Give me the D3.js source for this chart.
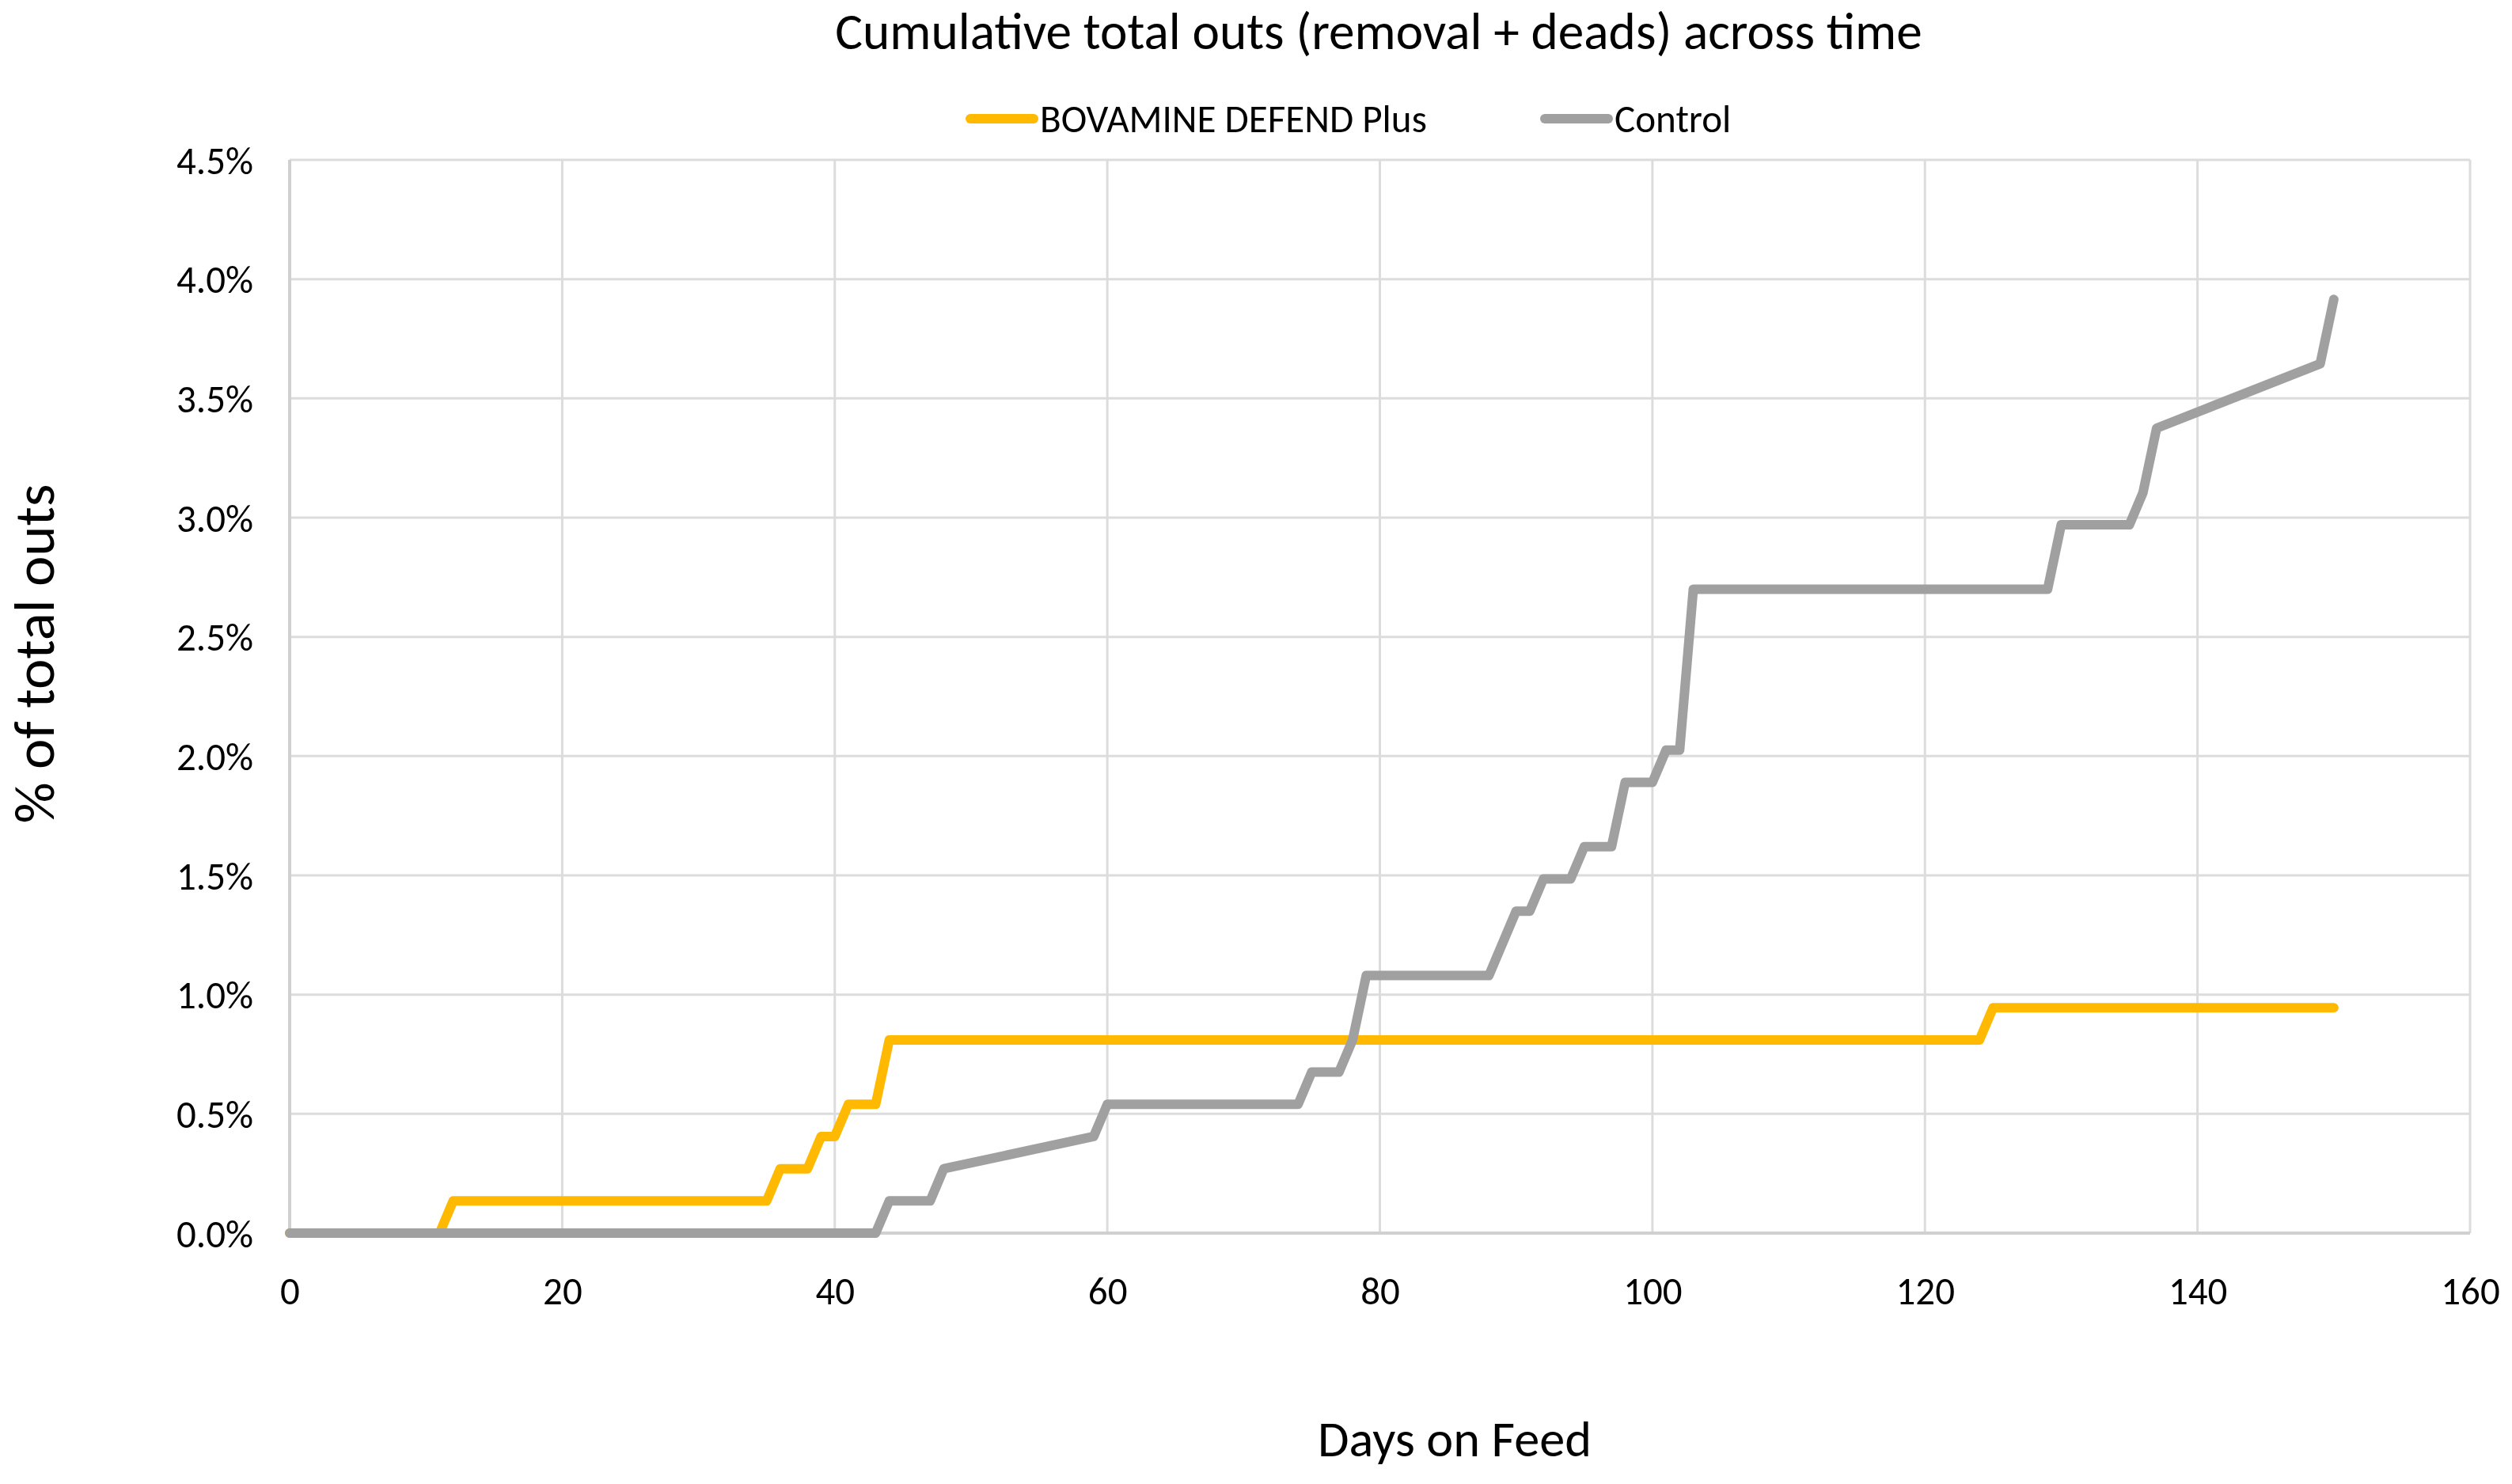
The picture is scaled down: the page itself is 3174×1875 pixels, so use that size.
<!DOCTYPE html>
<html>
<head>
<meta charset="utf-8">
<script src="https://cdn.jsdelivr.net/npm/d3@7"></script>
<style>
  html, body { margin: 0; padding: 0; background: #ffffff; }
  svg { display: block; }
  text { font-family: Carlito, Lato, "Open Sans", sans-serif; fill: #000; }
</style>
</head>
<body>
<svg id="chart" width="3174" height="1875"></svg>
<script>
// ---- data ----
const seriesNames = ["BOVAMINE DEFEND Plus", "Control"];
const bovDays   = [0, 11, 12, 35, 36, 38, 39, 40, 41, 43, 44, 124, 125, 150];
const bovValues = [0, 0, 0.135, 0.135, 0.27, 0.27, 0.405, 0.405, 0.54, 0.54, 0.81, 0.81, 0.945, 0.945];
const ctlDays   = [0, 43, 44, 47, 48, 59, 60, 74, 75, 77, 78, 79, 88, 90, 91, 92, 94, 95, 97, 98, 100, 101, 102, 103, 129, 130, 135, 136, 137, 149, 150];
const ctlValues = [0, 0, 0.135, 0.135, 0.27, 0.405, 0.54, 0.54, 0.675, 0.675, 0.81, 1.08, 1.08, 1.35, 1.35, 1.485, 1.485, 1.62, 1.62, 1.89, 1.89, 2.025, 2.025, 2.7, 2.7, 2.97, 2.97, 3.105, 3.375, 3.645, 3.915];
const xTicks = [0, 20, 40, 60, 80, 100, 120, 140, 160];
const yTicks = [0, 0.5, 1.0, 1.5, 2.0, 2.5, 3.0, 3.5, 4.0, 4.5];
const titleText = "Cumulative total outs (removal + deads) across time";
const xTitle = "Days on Feed";
const yTitle = "% of total outs";
const colors = ["#FFB900", "#A0A0A0"];

// ---- layout ----
const M = { left: 366, right: 3121, top: 202, bottom: 1558 };
const svg = d3.select("#chart");

const x = d3.scaleLinear().domain([0, 160]).range([M.left, M.right]);
const y = d3.scaleLinear().domain([0, 4.5]).range([M.bottom, M.top]);

function fitText(sel, target, base) {
  sel.style("font-size", base + "px");
  const w = sel.node().getComputedTextLength();
  const fs = base * target / w;
  sel.style("font-size", fs + "px");
  return fs;
}

// gridlines
const grid = svg.append("g");
grid.selectAll("line.h").data(yTicks).enter().append("line")
  .attr("x1", M.left).attr("x2", M.right)
  .attr("y1", d => y(d)).attr("y2", d => y(d))
  .attr("stroke", "#dcdcdc").attr("stroke-width", 3);
grid.selectAll("line.v").data(xTicks).enter().append("line")
  .attr("y1", M.top).attr("y2", M.bottom)
  .attr("x1", d => x(d)).attr("x2", d => x(d))
  .attr("stroke", "#dcdcdc").attr("stroke-width", 3);
// axis lines
svg.append("line").attr("x1", M.left).attr("x2", M.left).attr("y1", M.top).attr("y2", M.bottom)
  .attr("stroke", "#d0d0d0").attr("stroke-width", 4);
svg.append("line").attr("x1", M.left).attr("x2", M.right).attr("y1", M.bottom).attr("y2", M.bottom)
  .attr("stroke", "#d0d0d0").attr("stroke-width", 4);

// y tick labels
const yAxis = d3.axisLeft(y).tickValues(yTicks).tickSize(0).tickPadding(46)
  .tickFormat(d => d.toFixed(1) + "%");
const yg = svg.append("g").attr("transform", `translate(${M.left},0)`).call(yAxis);
yg.select(".domain").remove();
yg.attr("font-family", null);
const yTop = yg.selectAll("text").filter(d => d === 4.5);
const tickFs = fitText(yTop, 97, 40);
yg.selectAll("text").style("font-size", tickFs + "px").attr("dy", "0.35em");

// x tick labels
const xAxis = d3.axisBottom(x).tickValues(xTicks).tickSize(0).tickPadding(0)
  .tickFormat(d3.format("d"));
const xg = svg.append("g").attr("transform", `translate(0,${M.bottom})`).call(xAxis);
xg.select(".domain").remove();
xg.attr("font-family", null);
xg.selectAll("text").style("font-size", tickFs + "px").attr("y", 90).attr("dy", 0);

// lines
const line = d3.line().x(d => x(d[0])).y(d => y(d[1]));
const bovData = bovDays.map((d, i) => [d, bovValues[i]]);
const ctlData = ctlDays.map((d, i) => [d, ctlValues[i]]);
[[bovData, colors[0]], [ctlData, colors[1]]].forEach(([data, c]) => {
  svg.append("path").datum(data).attr("d", line)
    .attr("fill", "none").attr("stroke", c).attr("stroke-width", 12)
    .attr("stroke-linejoin", "round").attr("stroke-linecap", "round");
});

// title
const t = svg.append("text").attr("x", 1742).attr("y", 62).attr("text-anchor", "middle").text(titleText);
fitText(t, 1374, 56);

// legend
const legendItems = [
  { name: seriesNames[0], color: colors[0], x1: 1226, x2: 1306, tx: 1314, w: 489 },
  { name: seriesNames[1], color: colors[1], x1: 1952, x2: 2032, tx: 2040, w: 148 }
];
const lg = svg.append("g");
let legFs = null;
legendItems.forEach((it, i) => {
  lg.append("line").attr("x1", it.x1).attr("x2", it.x2).attr("y1", 150).attr("y2", 150)
    .attr("stroke", it.color).attr("stroke-width", 12).attr("stroke-linecap", "round");
  const tt = lg.append("text").attr("x", it.tx).attr("y", 150).attr("dy", "0.35em").text(it.name);
  if (i === 0) legFs = fitText(tt, it.w, 40); else tt.style("font-size", legFs + "px");
});

// axis titles
const xt = svg.append("text").attr("x", 1838).attr("y", 1840).attr("text-anchor", "middle").text(xTitle);
fitText(xt, 346, 56);
const yt = svg.append("text").attr("transform", "translate(68,826) rotate(-90)")
  .attr("text-anchor", "middle").text(yTitle);
fitText(yt, 429, 56);
</script>
</body>
</html>
